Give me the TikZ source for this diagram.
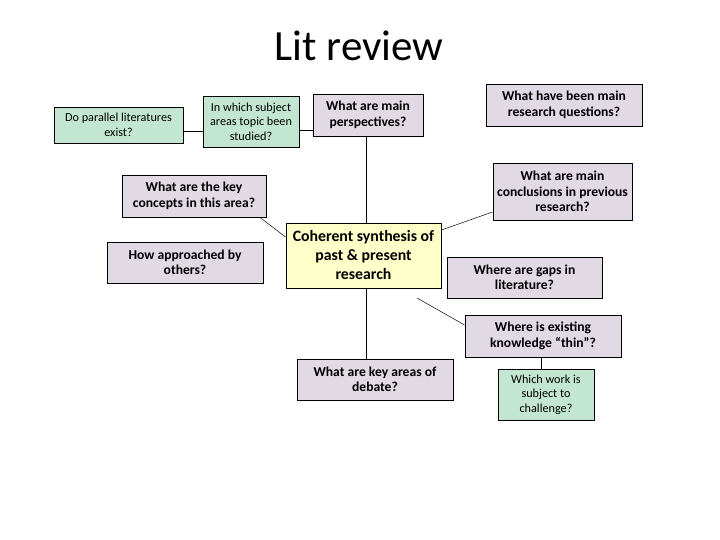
\documentclass[tikz,border=0pt]{standalone}
\usepackage{fontspec}
\setmainfont{Carlito}
\definecolor{purplebox}{HTML}{E1D9E4}
\definecolor{greenbox}{HTML}{C2E6D2}
\definecolor{yellowbox}{HTML}{FFFFC9}
\tikzset{
  basebox/.style={draw=black, line width=0.9pt, inner sep=0pt, align=center, anchor=center},
  purplenode/.style={basebox, fill=purplebox, font=\fontsize{13.6}{15.5}\selectfont\bfseries},
  greennode/.style={basebox, fill=greenbox, font=\fontsize{12.2}{14.5}\selectfont},
  yellownode/.style={basebox, fill=yellowbox, font=\fontsize{15.8}{19}\selectfont\bfseries},
  link/.style={draw=black, line width=0.8pt},
  thinlink/.style={draw=black, line width=0.5pt}
}
\begin{document}
\begin{tikzpicture}[x=1pt,y=-1pt]
\useasboundingbox (0,0) rectangle (720,540);
\node (title) at (359,46) {\fontsize{43}{48}\selectfont Lit review};

\node[greennode, minimum width=129pt, minimum height=36pt] (parallel) at (118.5,125) {Do parallel literatures\\exist?};
\node[greennode, minimum width=96pt, minimum height=51pt] (subject) at (251,121.5) {In which subject\\areas topic been\\studied?};
\node[purplenode, minimum width=110pt, minimum height=42pt] (persp) at (368,115) {What are main\\perspectives?};
\node[purplenode, minimum width=156pt, minimum height=42pt] (questions) at (564,105) {What have been main\\research questions?};
\node[purplenode, minimum width=144pt, minimum height=42pt] (concepts) at (194,196) {What are the key\\concepts in this area?};
\node[purplenode, minimum width=139pt, minimum height=57pt] (conclusions) at (562.5,191.5) {What are main\\conclusions in previous\\research?};
\node[purplenode, minimum width=156pt, minimum height=41pt] (approached) at (185,262.5) {How approached by\\others?};
\node[yellownode, minimum width=155pt, minimum height=65pt] (center) at (363.5,255.5) {Coherent synthesis of\\past \& present\\research};
\node[purplenode, minimum width=155pt, minimum height=41pt] (gaps) at (524.5,277.5) {Where are gaps in\\literature?};
\node[purplenode, minimum width=156pt, minimum height=42pt] (thin) at (543,336) {Where is existing\\knowledge “thin”?};
\node[purplenode, minimum width=156pt, minimum height=41pt] (debate) at (375,379.5) {What are key areas of\\debate?};
\node[greennode, minimum width=96pt, minimum height=51pt] (challenge) at (546,394.5) {Which work is\\subject to\\challenge?};

\coordinate (freeend) at (417,298);

\draw[link] (parallel.east |- 0,131) -- (subject.west |- 0,131);
\draw[link] (subject.east |- 0,130) -- (persp.west |- 0,130);
\draw[link] (persp.south -| 366,0) -- (center.north -| 366,0);
\draw[link] (center.south -| 366,0) -- (debate.north -| 366,0);
\draw[thinlink] (concepts.south -| 260,0) -- (center.west |- 0,237);
\draw[thinlink] (center.east |- 0,230) -- (conclusions.west |- 0,212);
\draw[thinlink] (freeend) -- (thin.west |- 0,325);
\draw[link] (thin.south -| 541,0) -- (challenge.north -| 541,0);
\end{tikzpicture}
\end{document}
